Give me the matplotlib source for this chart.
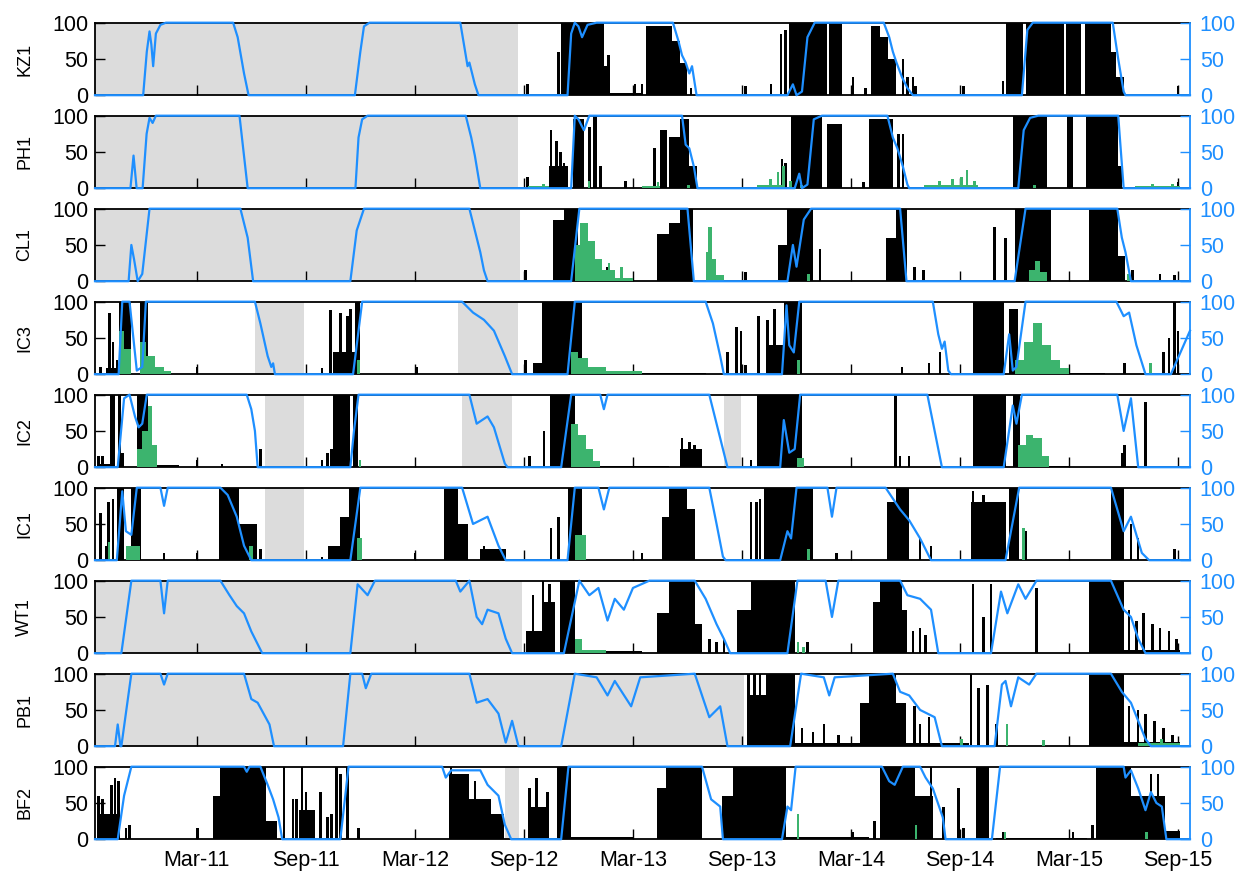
import matplotlib
matplotlib.use('Agg')
import matplotlib.pyplot as plt

plt.rcParams['font.family'] = ['Liberation Sans', 'DejaVu Sans']

# time axis is months since Jan 2011 (Mar-11 = 2, Sep-15 = 56)
T_START = -3.6
T_END = 56.65
tick_months = [2, 8, 14, 20, 26, 32, 38, 44, 50, 56]
tick_labels = ['Mar-11', 'Sep-11', 'Mar-12', 'Sep-12', 'Mar-13',
               'Sep-13', 'Mar-14', 'Sep-14', 'Mar-15', 'Sep-15']

sites = ['KZ1', 'PH1', 'CL1', 'IC3', 'IC2', 'IC1', 'WT1', 'PB1', 'BF2']

# ---- KZ1 ----
kz1_gaps = [(T_START, 19.7)]
kz1_ice = [(-3.6, 0), (-0.95, 0), (-0.75, 60), (-0.6, 88), (-0.5, 70), (-0.4, 40), (-0.25, 85),
           (0.0, 97), (0.3, 100), (4.0, 100), (4.25, 80), (4.6, 30), (4.85, 0), (10.7, 0),
           (11.0, 60), (11.2, 95), (11.5, 100), (16.5, 100), (16.9, 40), (17.0, 45), (17.3, 15),
           (17.5, 0), (22.4, 0), (22.6, 85), (22.8, 100), (23.0, 95), (23.2, 80), (23.5, 97),
           (24.0, 100), (28.2, 100), (28.5, 75), (28.7, 55), (28.9, 45), (29.1, 30), (29.25, 40),
           (29.5, 0), (34.5, 0), (34.8, 15), (35.0, 0), (35.3, 5), (35.6, 80), (36.0, 100),
           (39.8, 100), (40.1, 80), (40.3, 60), (40.5, 45), (40.8, 25), (41.1, 10), (41.4, 0),
           (47.4, 0), (47.7, 90), (48.0, 100), (52.4, 100), (52.7, 50), (53.0, 5), (53.1, 0),
           (56.65, 0)]
kz1_blocks = [(22.05, 24.4, 100), (24.4, 24.65, 40), (24.65, 26.5, 3), (26.7, 28.15, 95),
              (28.15, 28.6, 75), (28.6, 29.0, 45), (34.6, 36.7, 100), (36.8, 37.5, 100),
              (39.1, 39.6, 95), (39.6, 40.05, 80), (40.05, 40.5, 50), (46.5, 47.45, 100),
              (47.6, 49.7, 100), (49.85, 50.65, 100), (50.9, 52.3, 100), (52.3, 52.6, 60),
              (52.6, 53.0, 25)]
kz1_spikes = [(20.2, 15), (21.9, 60), (24.65, 55), (26.1, 15), (26.5, 15), (29.2, 10), (32.2, 12),
              (33.6, 15), (34.15, 85), (34.4, 90), (38.1, 25), (38.8, 10), (40.85, 50), (41.1, 25),
              (41.4, 25), (41.55, 12), (44.2, 12), (46.35, 20), (56.0, 12)]
kz1_green = []

# ---- PH1 ----
ph1_gaps = [(T_START, 19.7)]
ph1_ice = [(-3.6, 0), (-1.65, 0), (-1.48, 45), (-1.31, 0), (-0.98, 0), (-0.76, 75), (-0.6, 97),
           (-0.43, 90), (-0.25, 100), (4.35, 100), (4.8, 0), (10.73, 0), (10.9, 70), (11.1, 95),
           (11.4, 100), (16.8, 100), (17.1, 70), (17.3, 45), (17.6, 0), (22.6, 0), (22.8, 100),
           (23.0, 95), (23.3, 80), (23.6, 100), (28.7, 100), (28.9, 60), (29.1, 55), (29.35, 30),
           (29.55, 0), (34.9, 0), (35.15, 20), (35.3, 0), (35.6, 5), (35.95, 95), (36.4, 100),
           (40.0, 100), (40.3, 70), (40.55, 55), (40.85, 30), (41.1, 5), (41.2, 0), (47.2, 0),
           (47.5, 80), (47.85, 97), (48.3, 100), (52.7, 100), (53.0, 0), (56.65, 0)]
ph1_blocks = [(21.4, 22.4, 30), (22.7, 23.3, 95), (23.8, 24.0, 100), (27.5, 27.9, 80),
              (28.0, 28.6, 70), (28.6, 29.1, 95), (29.1, 29.5, 30), (34.7, 36.4, 100),
              (36.7, 37.5, 88), (39.0, 40.3, 95), (46.9, 48.8, 100), (49.9, 50.2, 100),
              (50.95, 52.7, 100), (52.7, 52.9, 30)]
ph1_spikes = [(20.2, 15), (21.5, 80), (21.8, 65), (22.0, 50), (22.2, 35), (23.6, 85), (24.2, 30),
              (25.6, 10), (27.2, 55), (34.2, 40), (34.4, 35), (38.7, 8), (40.6, 75), (40.85, 75),
              (56.0, 8)]
ph1_green = [(20.2, 21.4, 3), (21.0, 21.15, 6), (23.5, 23.65, 10), (26.5, 27.5, 3), (27.3, 27.45, 8),
             (29.0, 29.15, 5), (32.8, 34.3, 4), (33.5, 33.65, 12), (33.9, 34.05, 22), (34.2, 34.35, 30),
             (34.6, 34.75, 10), (35.2, 35.35, 5), (42.0, 45.0, 4), (42.8, 42.95, 10), (43.5, 43.65, 12),
             (44.0, 44.15, 15), (44.3, 44.45, 25), (44.7, 44.85, 10), (48.0, 48.15, 5),
             (53.6, 56.1, 3), (54.5, 54.65, 6), (55.6, 55.75, 6)]

# ---- CL1 ----
cl1_gaps = [(T_START, 19.8)]
cl1_ice = [(-3.6, 0), (-1.75, 0), (-1.6, 50), (-1.45, 30), (-1.25, 0), (-1.0, 10), (-0.6, 100),
           (4.4, 100), (4.8, 60), (5.1, 0), (10.45, 0), (10.8, 70), (11.2, 100), (17.0, 100),
           (17.3, 70), (17.6, 40), (17.8, 15), (18.0, 0), (22.6, 0), (23.05, 100), (29.0, 100),
           (29.35, 0), (34.5, 0), (34.8, 50), (35.0, 20), (35.4, 85), (35.8, 100), (40.7, 100),
           (41.05, 0), (47.0, 0), (47.6, 100), (52.65, 100), (52.9, 60), (53.1, 40), (53.4, 0),
           (56.65, 0)]
cl1_blocks = [(21.6, 22.2, 85), (22.2, 23.0, 100), (23.0, 25.5, 3), (27.3, 28.0, 65),
              (28.0, 28.6, 80), (28.6, 29.3, 100), (34.0, 34.5, 50), (34.5, 35.9, 100),
              (39.9, 40.5, 60), (40.5, 41.1, 100), (47.0, 49.0, 100), (51.1, 52.7, 100),
              (52.7, 53.1, 35)]
cl1_spikes = [(20.1, 15), (24.6, 20), (32.2, 12), (36.3, 45), (41.5, 20), (42.0, 15), (45.9, 75),
              (46.5, 60), (53.5, 15), (55.0, 10), (55.8, 8)]
cl1_green = [(22.8, 23.1, 50), (23.1, 23.5, 80), (23.5, 23.9, 55), (23.9, 24.3, 30), (24.3, 25.0, 15),
             (25.0, 26.0, 5), (24.6, 24.75, 25), (25.3, 25.45, 20), (30.0, 30.15, 40),
             (30.15, 30.35, 75), (30.35, 30.55, 30), (30.55, 31.0, 8), (35.6, 35.75, 10),
             (47.8, 48.1, 15), (48.1, 48.4, 28), (48.4, 48.8, 12), (53.2, 53.35, 10)]

# ---- IC3 ----
ic3_gaps = [(5.2, 7.9), (16.4, 19.7)]
ic3_ice = [(-3.6, 0), (-2.3, 0), (-2.1, 100), (-1.7, 100), (-1.3, 5), (-1.0, 10), (-0.8, 100),
           (5.2, 100), (5.5, 70), (5.9, 25), (6.1, 10), (6.2, 15), (6.3, 0), (10.6, 0), (11.1, 100),
           (16.6, 100), (17.2, 85), (17.8, 75), (18.35, 60), (18.95, 25), (19.35, 0), (22.4, 0),
           (22.8, 100), (30.0, 100), (30.4, 70), (30.8, 25), (31.0, 0), (34.2, 0), (34.45, 95),
           (34.6, 40), (34.85, 30), (35.15, 100), (42.5, 100), (42.8, 55), (43.0, 35), (43.15, 45),
           (43.35, 5), (43.5, 0), (46.4, 0), (46.7, 55), (46.9, 5), (47.1, 10), (47.6, 100),
           (52.6, 100), (53.0, 80), (53.3, 85), (53.7, 40), (54.2, 0), (55.6, 0), (56.65, 60)]
ic3_blocks = [(-3.0, -2.3, 8), (-2.3, -1.6, 100), (-1.15, -0.7, 100), (-0.7, 0.5, 3),
              (9.5, 10.7, 30), (10.7, 11.0, 100), (20.5, 21.0, 15), (21.0, 23.2, 100),
              (23.2, 30.0, 2), (33.3, 34.3, 40), (34.3, 35.3, 100), (44.7, 46.4, 100),
              (46.7, 47.2, 90), (47.2, 52.0, 2)]
ic3_spikes = [(-3.3, 10), (-2.8, 85), (-2.6, 45), (-2.4, 20), (2.0, 10), (8.9, 8), (9.35, 88),
              (9.9, 85), (10.3, 80), (10.45, 90), (14.1, 10), (20.1, 20), (31.2, 30), (31.7, 65),
              (31.95, 60), (32.2, 12), (32.9, 80), (33.4, 75), (33.8, 90), (40.8, 10), (42.3, 15),
              (42.9, 30), (53.05, 15), (55.2, 30), (55.5, 50), (55.8, 100), (56.0, 60)]
ic3_green = [(-2.3, -2.0, 60), (-2.0, -1.6, 35), (-1.1, -0.8, 45), (-0.8, -0.3, 25), (-0.3, 0.2, 10),
             (0.2, 0.6, 4), (10.8, 11.0, 20), (22.6, 23.0, 30), (23.0, 23.5, 22), (23.5, 24.5, 10),
             (24.5, 26.5, 4), (35.0, 35.2, 20), (47.0, 47.5, 20), (47.5, 48.0, 45), (48.0, 48.5, 70),
             (48.5, 49.0, 40), (49.0, 49.5, 20), (49.5, 50.0, 8), (54.4, 54.55, 15)]

# ---- IC2 ----
ic2_gaps = [(5.75, 7.9), (16.6, 19.35), (31.0, 31.95)]
ic2_ice = [(-3.6, 0), (-2.35, 0), (-2.0, 95), (-1.7, 100), (-1.4, 70), (-1.2, 55), (-1.0, 60),
           (-0.75, 100), (4.75, 100), (5.0, 80), (5.2, 50), (5.35, 0), (10.45, 0), (10.65, 50),
           (10.9, 100), (17.0, 100), (17.4, 60), (18.0, 70), (18.35, 55), (18.95, 5), (19.1, 0),
           (22.05, 0), (22.6, 100), (24.2, 100), (24.4, 80), (24.6, 100), (30.2, 100), (30.7, 50),
           (31.2, 0), (34.1, 0), (34.3, 65), (34.6, 20), (34.9, 25), (35.2, 100), (42.2, 100),
           (42.6, 50), (43.0, 0), (46.4, 0), (46.9, 85), (47.1, 60), (47.4, 100), (52.65, 100),
           (53.0, 50), (53.4, 95), (53.8, 0), (56.65, 0)]
ic2_blocks = [(-3.4, -2.6, 5), (-2.8, -2.5, 100), (-2.35, -2.15, 100), (-1.3, -0.7, 100),
              (-0.7, 1.0, 3), (9.5, 10.45, 100), (10.6, 10.85, 100), (21.45, 22.8, 100),
              (22.8, 28.0, 2), (28.6, 29.8, 25), (32.8, 35.3, 100), (44.7, 46.5, 100),
              (46.9, 47.3, 100), (47.3, 50.0, 2)]
ic2_spikes = [(-3.4, 15), (-3.2, 15), (-2.1, 20), (2.0, 10), (3.4, 5), (5.5, 25), (8.9, 10),
              (9.2, 20), (9.4, 25), (20.3, 15), (21.1, 50), (28.7, 40), (29.1, 35), (29.4, 30),
              (32.5, 10), (40.45, 100), (40.7, 15), (41.2, 15), (52.9, 20), (53.05, 30), (54.2, 90)]
ic2_green = [(-1.3, -1.0, 25), (-1.0, -0.7, 50), (-0.7, -0.45, 85), (-0.45, -0.2, 30),
             (10.9, 11.05, 10), (22.6, 23.0, 60), (23.0, 23.4, 45), (23.4, 23.8, 25), (23.8, 24.2, 8),
             (35.0, 35.4, 12), (47.2, 47.6, 30), (47.6, 48.0, 45), (48.0, 48.5, 40), (48.5, 48.9, 15)]

# ---- IC1 ----
ic1_gaps = [(5.75, 7.9)]
ic1_ice = [(-3.6, 0), (-2.4, 0), (-2.1, 95), (-1.9, 40), (-1.6, 35), (-1.3, 100), (0.0, 100),
           (0.2, 75), (0.4, 100), (3.3, 100), (3.7, 90), (4.2, 60), (4.6, 20), (5.0, 0), (10.45, 0),
           (11.0, 100), (16.6, 100), (17.2, 50), (17.6, 55), (18.0, 60), (18.6, 20), (19.0, 0),
           (22.4, 0), (22.8, 100), (24.1, 100), (24.4, 70), (24.7, 100), (30.2, 100), (30.6, 50),
           (30.95, 5), (31.1, 0), (34.1, 0), (34.5, 40), (34.7, 30), (35.0, 100), (36.7, 100),
           (36.95, 60), (37.2, 100), (39.9, 100), (40.7, 70), (41.2, 55), (41.8, 30), (42.4, 0),
           (46.5, 0), (47.25, 100), (52.3, 100), (52.65, 70), (53.0, 40), (53.4, 60), (54.0, 10),
           (54.4, 0), (56.65, 0)]
ic1_blocks = [(-2.4, -2.0, 100), (-1.6, -1.05, 100), (3.2, 4.3, 100), (4.3, 5.3, 50), (9.2, 9.9, 20),
              (9.9, 10.4, 60), (10.4, 11.0, 100), (15.6, 16.4, 100), (16.4, 16.9, 50),
              (17.6, 19.0, 15), (22.4, 23.2, 100), (27.6, 28.0, 60), (28.0, 29.0, 100),
              (29.0, 29.4, 70), (33.2, 35.9, 100), (40.0, 40.5, 80), (40.5, 41.2, 100),
              (44.6, 46.5, 80), (46.7, 47.25, 100), (52.3, 53.0, 100)]
ic1_spikes = [(-3.3, 65), (-3.0, 20), (-2.85, 80), (-2.6, 85), (0.2, 10), (2.0, 10), (5.5, 15),
              (8.9, 5), (14.0, 10), (17.8, 20), (21.5, 45), (21.9, 60), (26.5, 10), (32.5, 80),
              (32.8, 80), (33.0, 85), (37.2, 10), (41.8, 30), (42.4, 20), (44.7, 95), (45.3, 90),
              (47.6, 40), (53.4, 50), (53.8, 30), (55.8, 15)]
ic1_green = [(-2.9, -2.75, 25), (-1.9, -1.1, 20), (4.9, 5.1, 20), (10.8, 11.1, 30), (22.8, 23.4, 35),
             (35.6, 35.75, 15), (47.4, 47.55, 45)]

# ---- WT1 ----
wt1_gaps = [(T_START, 19.9)]
wt1_ice = [(-3.6, 0), (-2.15, 0), (-1.6, 100), (0.0, 100), (0.2, 55), (0.4, 100), (3.3, 100),
           (3.8, 80), (4.2, 65), (4.6, 55), (5.0, 30), (5.6, 0), (10.45, 0), (10.85, 95), (11.4, 80),
           (11.8, 100), (16.25, 100), (16.5, 85), (17.0, 100), (17.4, 50), (17.7, 40), (18.0, 60),
           (18.6, 55), (19.0, 20), (19.35, 0), (22.2, 0), (23.05, 100), (23.6, 80), (24.1, 90),
           (24.6, 45), (25.0, 75), (25.5, 60), (26.0, 90), (26.9, 100), (29.4, 100), (30.0, 75),
           (30.6, 40), (31.0, 20), (31.35, 0), (34.5, 0), (35.05, 100), (36.6, 100), (36.95, 50),
           (37.3, 100), (40.7, 100), (41.1, 80), (41.8, 75), (42.4, 60), (42.8, 0), (45.7, 0),
           (46.25, 85), (46.6, 55), (47.2, 95), (47.6, 75), (48.2, 100), (52.3, 100), (52.65, 80),
           (53.0, 60), (53.4, 50), (53.8, 20), (54.2, 0), (56.65, 0)]
wt1_blocks = [(20.1, 21.0, 30), (21.0, 21.7, 70), (22.0, 22.8, 100), (22.8, 26.5, 3),
              (27.3, 28.0, 55), (28.0, 29.4, 100), (29.4, 29.8, 40), (31.7, 32.5, 60),
              (32.5, 34.9, 100), (39.2, 39.6, 70), (39.6, 40.8, 100), (40.8, 41.1, 60),
              (51.1, 53.0, 100), (53.0, 56.1, 4)]
wt1_spikes = [(20.5, 80), (21.05, 100), (21.4, 95), (30.2, 20), (30.6, 15), (31.0, 20), (35.6, 15),
              (41.4, 30), (41.8, 35), (42.1, 25), (44.7, 95), (45.3, 50), (45.7, 95), (48.2, 90),
              (53.3, 60), (53.7, 45), (54.1, 55), (54.6, 40), (55.0, 35), (55.5, 30), (55.9, 20)]
wt1_green = [(22.8, 23.2, 20), (23.2, 24.5, 5), (35.0, 35.15, 15), (35.3, 35.45, 8)]

# ---- PB1 ----
pb1_gaps = [(T_START, 32.1)]
pb1_ice = [(-3.6, 0), (-2.5, 0), (-2.35, 30), (-2.2, 0), (-2.15, 0), (-1.6, 100), (0.0, 100),
           (0.2, 85), (0.4, 100), (4.6, 100), (5.0, 65), (5.35, 60), (6.0, 30), (6.25, 0), (10.05, 0),
           (10.45, 100), (11.1, 100), (11.3, 80), (11.6, 100), (17.0, 100), (17.4, 60), (18.0, 65),
           (18.6, 45), (19.0, 5), (19.35, 35), (19.7, 0), (22.05, 0), (22.8, 100), (24.0, 95),
           (24.6, 70), (25.0, 90), (25.9, 55), (26.4, 95), (29.4, 100), (29.8, 70), (30.2, 40),
           (30.8, 55), (31.2, 0), (34.65, 0), (35.25, 100), (36.5, 95), (36.8, 70), (37.1, 95),
           (40.3, 100), (40.7, 75), (41.2, 70), (41.8, 50), (42.6, 40), (43.0, 0), (45.9, 0),
           (46.3, 85), (46.5, 90), (46.8, 55), (47.2, 95), (47.8, 85), (48.2, 100), (52.3, 100),
           (52.9, 75), (53.4, 60), (53.8, 35), (54.2, 10), (54.5, 0), (56.65, 0)]
pb1_blocks = [(32.3, 33.3, 70), (33.3, 34.9, 100), (34.9, 38.5, 5), (38.5, 39.0, 60),
              (39.0, 40.5, 100), (40.5, 41.0, 60), (41.0, 44.5, 4), (51.1, 53.0, 100),
              (53.0, 56.1, 6)]
pb1_spikes = [(32.35, 100), (32.7, 100), (33.0, 100), (35.3, 25), (35.9, 20), (36.5, 30), (37.3, 15),
              (41.5, 55), (41.8, 30), (42.3, 40), (44.6, 100), (45.0, 80), (45.5, 85), (46.0, 30),
              (53.3, 55), (53.8, 50), (54.2, 45), (54.7, 35), (55.2, 25), (55.7, 15)]
pb1_green = [(44.0, 44.15, 10), (46.5, 46.65, 30), (48.5, 48.65, 8), (53.8, 56.1, 4), (55.0, 55.15, 10)]

# ---- BF2 ----
bf2_gaps = [(18.95, 19.75)]
bf2_ice = [(-3.6, 0), (-2.35, 0), (-2.0, 60), (-1.6, 100), (4.6, 100), (4.75, 93), (4.9, 100),
           (5.5, 100), (5.9, 75), (6.2, 55), (6.5, 30), (6.7, 0), (9.9, 0), (10.35, 100), (15.5, 100),
           (15.7, 85), (16.0, 95), (17.6, 95), (18.0, 75), (18.6, 60), (18.95, 20), (19.3, 0),
           (22.05, 0), (22.45, 100), (29.8, 100), (30.3, 55), (30.8, 45), (30.95, 0), (34.2, 0),
           (34.5, 45), (34.7, 40), (34.95, 100), (39.7, 100), (40.1, 80), (40.4, 75), (40.85, 100),
           (41.8, 100), (42.1, 85), (42.5, 70), (43.05, 30), (43.2, 0), (45.75, 0), (46.2, 100),
           (53.0, 100), (53.1, 85), (53.4, 95), (53.8, 70), (54.2, 40), (54.5, 65), (54.8, 50),
           (55.1, 45), (55.35, 0), (56.65, 0)]
bf2_blocks = [(-3.5, -2.4, 35), (2.9, 3.3, 60), (3.3, 5.8, 100), (5.8, 6.4, 25), (7.6, 8.5, 40),
              (15.9, 17.0, 90), (17.0, 18.2, 55), (18.2, 18.9, 35), (20.2, 21.2, 45),
              (21.8, 22.6, 100), (22.6, 26.0, 3), (27.3, 27.8, 70), (27.8, 29.8, 100),
              (30.9, 31.5, 60), (31.5, 34.4, 100), (34.4, 39.0, 3), (39.6, 41.5, 100),
              (41.5, 42.5, 60), (44.9, 45.6, 100), (46.0, 51.0, 2), (51.5, 53.4, 100),
              (53.4, 55.3, 60), (55.3, 56.1, 12)]
bf2_spikes = [(-3.4, 60), (-3.2, 55), (-2.7, 75), (-2.5, 85), (-2.3, 80), (-1.9, 15), (-1.7, 20),
              (2.05, 15), (6.8, 100), (7.3, 55), (7.5, 55), (7.8, 100), (8.0, 65), (8.8, 65),
              (9.2, 30), (9.4, 35), (9.7, 100), (9.9, 90), (10.3, 100), (10.9, 15), (16.0, 100),
              (17.3, 80), (20.3, 70), (20.7, 85), (21.3, 65), (38.1, 10), (39.3, 25), (42.4, 100),
              (43.1, 45), (43.9, 70), (44.2, 15), (46.4, 10), (50.2, 10), (51.3, 20), (54.5, 90),
              (54.9, 90)]
bf2_green = [(35.0, 35.12, 35), (41.5, 41.65, 20), (46.4, 46.55, 10), (54.2, 54.35, 10)]

site_data = {
    'KZ1': (kz1_gaps, kz1_ice, kz1_blocks, kz1_spikes, kz1_green),
    'PH1': (ph1_gaps, ph1_ice, ph1_blocks, ph1_spikes, ph1_green),
    'CL1': (cl1_gaps, cl1_ice, cl1_blocks, cl1_spikes, cl1_green),
    'IC3': (ic3_gaps, ic3_ice, ic3_blocks, ic3_spikes, ic3_green),
    'IC2': (ic2_gaps, ic2_ice, ic2_blocks, ic2_spikes, ic2_green),
    'IC1': (ic1_gaps, ic1_ice, ic1_blocks, ic1_spikes, ic1_green),
    'WT1': (wt1_gaps, wt1_ice, wt1_blocks, wt1_spikes, wt1_green),
    'PB1': (pb1_gaps, pb1_ice, pb1_blocks, pb1_spikes, pb1_green),
    'BF2': (bf2_gaps, bf2_ice, bf2_blocks, bf2_spikes, bf2_green),
}

ICE_BLUE = '#1e8fff'
CALL_GREEN = '#3cb46e'
GAP_GREY = '#dcdcdc'
SPIKE_WIDTH = 0.14
FS = 15.5


def draw_site(ax, name, gaps, ice, blocks, spikes, green, show_dates):
    for g0, g1 in gaps:
        ax.axvspan(g0, g1, color=GAP_GREY, lw=0, zorder=0)

    ax.bar([b[0] for b in blocks], [b[2] for b in blocks],
           width=[b[1] - b[0] for b in blocks], align='edge',
           color='black', linewidth=0, zorder=2)
    ax.bar([s[0] for s in spikes], [s[1] for s in spikes],
           width=SPIKE_WIDTH, color='black', linewidth=0, zorder=2)
    if green:
        ax.bar([g[0] for g in green], [g[2] for g in green],
               width=[max(g[1] - g[0], SPIKE_WIDTH) for g in green], align='edge',
               color=CALL_GREEN, linewidth=0, zorder=3)

    ax.set_xlim(T_START, T_END)
    ax.set_ylim(0, 100)
    ax.set_yticks([0, 50, 100])
    ax.set_xticks(tick_months)
    ax.set_xticklabels(tick_labels if show_dates else [])
    ax.tick_params(axis='y', direction='in', length=7, width=1, labelsize=FS, pad=5)
    ax.tick_params(axis='x', direction='in', length=7, width=1, labelsize=FS, pad=7.5,
                   labelbottom=show_dates)
    ax.spines['right'].set_visible(False)
    for side in ['top', 'bottom', 'left']:
        ax.spines[side].set_linewidth(1.3)
    ax.text(-0.064, 0.5, name, transform=ax.transAxes, rotation=90,
            ha='center', va='center', fontsize=13)

    # sea ice concentration on the right-hand axis
    ax2 = ax.twinx()
    ax2.plot([p[0] for p in ice], [p[1] for p in ice], color=ICE_BLUE, lw=1.6,
             clip_on=False, zorder=4)
    ax2.set_xlim(T_START, T_END)
    ax2.set_ylim(0, 100)
    ax2.set_yticks([0, 50, 100])
    ax2.tick_params(axis='y', direction='in', length=7, width=1, colors=ICE_BLUE,
                    labelsize=FS, pad=7)
    ax2.spines['right'].set_color(ICE_BLUE)
    ax2.spines['right'].set_linewidth(1.3)
    for side in ['top', 'bottom', 'left']:
        ax2.spines[side].set_visible(False)


fig = plt.figure(figsize=(12.4, 8.71), dpi=100)
W, H = 1240.0, 871.0
left, right = 95, 1190
for i, site in enumerate(sites):
    top = 22.7 + 93.0 * i
    height = 72.5
    ax = fig.add_axes([left / W, 1 - (top + height) / H, (right - left) / W, height / H])
    gaps, ice, blocks, spikes, green = site_data[site]
    draw_site(ax, site, gaps, ice, blocks, spikes, green, show_dates=(i == len(sites) - 1))

fig.savefig('out.png', dpi=100)
